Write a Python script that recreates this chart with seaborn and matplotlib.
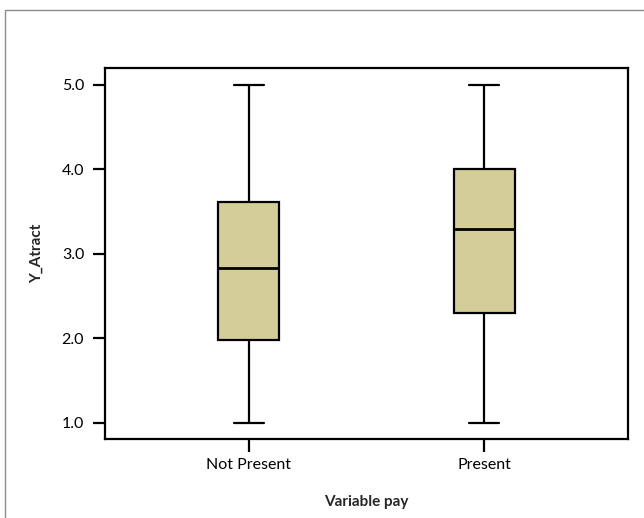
import matplotlib
matplotlib.use("Agg")
import matplotlib.pyplot as plt
import matplotlib.patches as mpatches
import numpy as np
import pandas as pd
import seaborn as sns

# Five-number summaries (min, Q1, median, Q3, max) of Y_Atract per group
categories = ["Not Present", "Present"]
not_present_summary = [1.0, 1.98, 2.83, 3.62, 5.0]
present_summary = [1.0, 2.30, 3.30, 4.00, 5.0]
y_ticks = [1.0, 2.0, 3.0, 4.0, 5.0]

df = pd.DataFrame({
    "Variable pay": [categories[0]] * len(not_present_summary) + [categories[1]] * len(present_summary),
    "Y_Atract": not_present_summary + present_summary,
})

sns.set_style("ticks")
plt.rcParams["font.family"] = ["Lato", "DejaVu Sans"]

fig = plt.figure(figsize=(6.44, 5.18), dpi=100)
ax = fig.add_axes([105 / 644, 1 - 439 / 518, (628 - 105) / 644, (439 - 68) / 518])

sns.boxplot(
    data=df, x="Variable pay", y="Y_Atract", order=categories, ax=ax,
    color="#D3CE97", saturation=1, width=0.26, linewidth=1.6, linecolor="black",
    whis=1.5, showfliers=False,
    medianprops={"linewidth": 2.0, "color": "black"},
)

ax.set_xlim(-0.611, 1.611)
ax.set_ylim(0.81, 5.2)
ax.set_yticks(y_ticks)
ax.set_yticklabels([f"{v:.1f}" for v in y_ticks])
ax.tick_params(axis="both", direction="out", length=9, width=1.6, colors="black",
               labelsize=11.5, pad=5)
ax.tick_params(axis="y", pad=6)
for s in ax.spines.values():
    s.set_visible(True)
    s.set_linewidth(1.6)
    s.set_color("black")

ax.set_xlabel("Variable pay", fontsize=11, fontweight="bold", labelpad=16)
ax.set_ylabel("Y_Atract", fontsize=11, fontweight="bold", labelpad=13)

# Outer frame around the chart area
frame = mpatches.Rectangle((5 / 644, -0.1), 1.2, 1 - 10 / 518 + 0.1,
                           transform=fig.transFigure, fill=False,
                           edgecolor="#8c8c8c", linewidth=1.0, clip_on=False)
fig.patches.append(frame)

fig.savefig("out.png", dpi=100)
